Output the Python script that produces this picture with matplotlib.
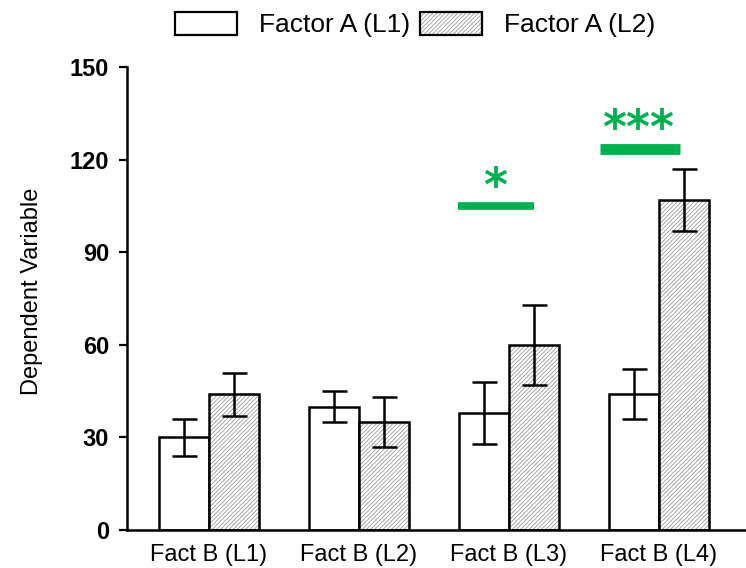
import matplotlib
matplotlib.use('Agg')
import matplotlib.pyplot as plt
import numpy as np
from matplotlib import font_manager
from matplotlib.patches import Patch

# group labels and series
groups = ['Fact B (L1)', 'Fact B (L2)', 'Fact B (L3)', 'Fact B (L4)']
series_names = ['Factor A (L1)', 'Factor A (L2)']
level1_means = [30, 40, 38, 44]
level1_err = [6, 5, 10, 8]
level2_means = [44, 35, 60, 107]
level2_err = [7, 8, 13, 10]

# significance markers: bar ends, bar height, label and its position, bar width
sig_x0 = [1.66, 2.605]
sig_x1 = [2.167, 3.14]
sig_y = [105, 123.5]
sig_text = ['*', '***']
sig_text_x = [1.907, 2.862]
sig_text_y = [112.3, 131.0]
sig_lw = [5.5, 7.8]

yticks = [0, 30, 60, 90, 120, 150]

names = {f.name for f in font_manager.fontManager.ttflist}
base_font = 'Liberation Sans' if 'Liberation Sans' in names else 'DejaVu Sans'
plt.rcParams['font.family'] = [base_font, 'DejaVu Sans']

green = '#00b050'
hatch_gray = '#9a9a9a'
plt.rcParams['hatch.linewidth'] = 0.6

fig = plt.figure(figsize=(7.46, 5.68), dpi=100)
ax = fig.add_axes([127 / 746, 38 / 568, 619 / 746, 463 / 568])

x = np.arange(len(groups))
w = 1 / 3

ax.bar(x - w / 2, level1_means, w, color='white', edgecolor='black',
       linewidth=1.8, zorder=2)
# hatched bars: grey hatch layer, then black outline on top
ax.bar(x + w / 2, level2_means, w, color='white', edgecolor=hatch_gray,
       hatch='////////', linewidth=0, zorder=2)
ax.bar(x + w / 2, level2_means, w, fill=False, edgecolor='black',
       linewidth=1.8, zorder=3)

ax.errorbar(x - w / 2, level1_means, yerr=level1_err, fmt='none',
            ecolor='black', elinewidth=1.8, capsize=9, capthick=1.8, zorder=4)
ax.errorbar(x + w / 2, level2_means, yerr=level2_err, fmt='none',
            ecolor='black', elinewidth=1.8, capsize=9, capthick=1.8, zorder=4)

for x0, x1, yy, txt, tx, ty, lw in zip(sig_x0, sig_x1, sig_y, sig_text,
                                         sig_text_x, sig_text_y, sig_lw):
    ax.plot([x0, x1], [yy, yy], color=green, linewidth=lw,
            solid_capstyle='butt', zorder=5, clip_on=False)
    ax.text(tx, ty, txt, color=green, fontsize=33, fontweight='bold',
            family=['DejaVu Sans'], ha='center', va='center_baseline',
            zorder=5)

ax.set_xlim(-0.547, -0.547 + 619 / 150)
ax.set_ylim(0, 150)
ax.set_yticks(yticks)
ax.set_yticklabels([str(v) for v in yticks], fontsize=17, fontweight='bold')
ax.set_xticks(x)
ax.set_xticklabels(groups, fontsize=17)
ax.tick_params(axis='x', length=0, pad=10)
ax.tick_params(axis='y', direction='out', length=6, width=1.6, pad=7)

for side in ['top', 'right']:
    ax.spines[side].set_visible(False)
for side in ['left', 'bottom']:
    ax.spines[side].set_linewidth(1.8)

ax.set_ylabel('Dependent Variable', fontsize=17)
ax.yaxis.set_label_coords(-0.135, 0.516)

# legend with overlaid hatch + outline patches
h1 = Patch(facecolor='white', edgecolor='black', linewidth=1.6)
h2 = (Patch(facecolor='white', edgecolor=hatch_gray, hatch='////////', linewidth=0),
      Patch(fill=False, edgecolor='black', linewidth=1.6))
fig.legend([h1, h2], series_names, loc='center', ncol=2, frameon=False,
           fontsize=19, handlelength=2.35, handleheight=0.95,
           handletextpad=0.85, columnspacing=0.35,
           bbox_to_anchor=(415 / 746, 1 - 24.5 / 568))

fig.savefig('out.png', dpi=100)
